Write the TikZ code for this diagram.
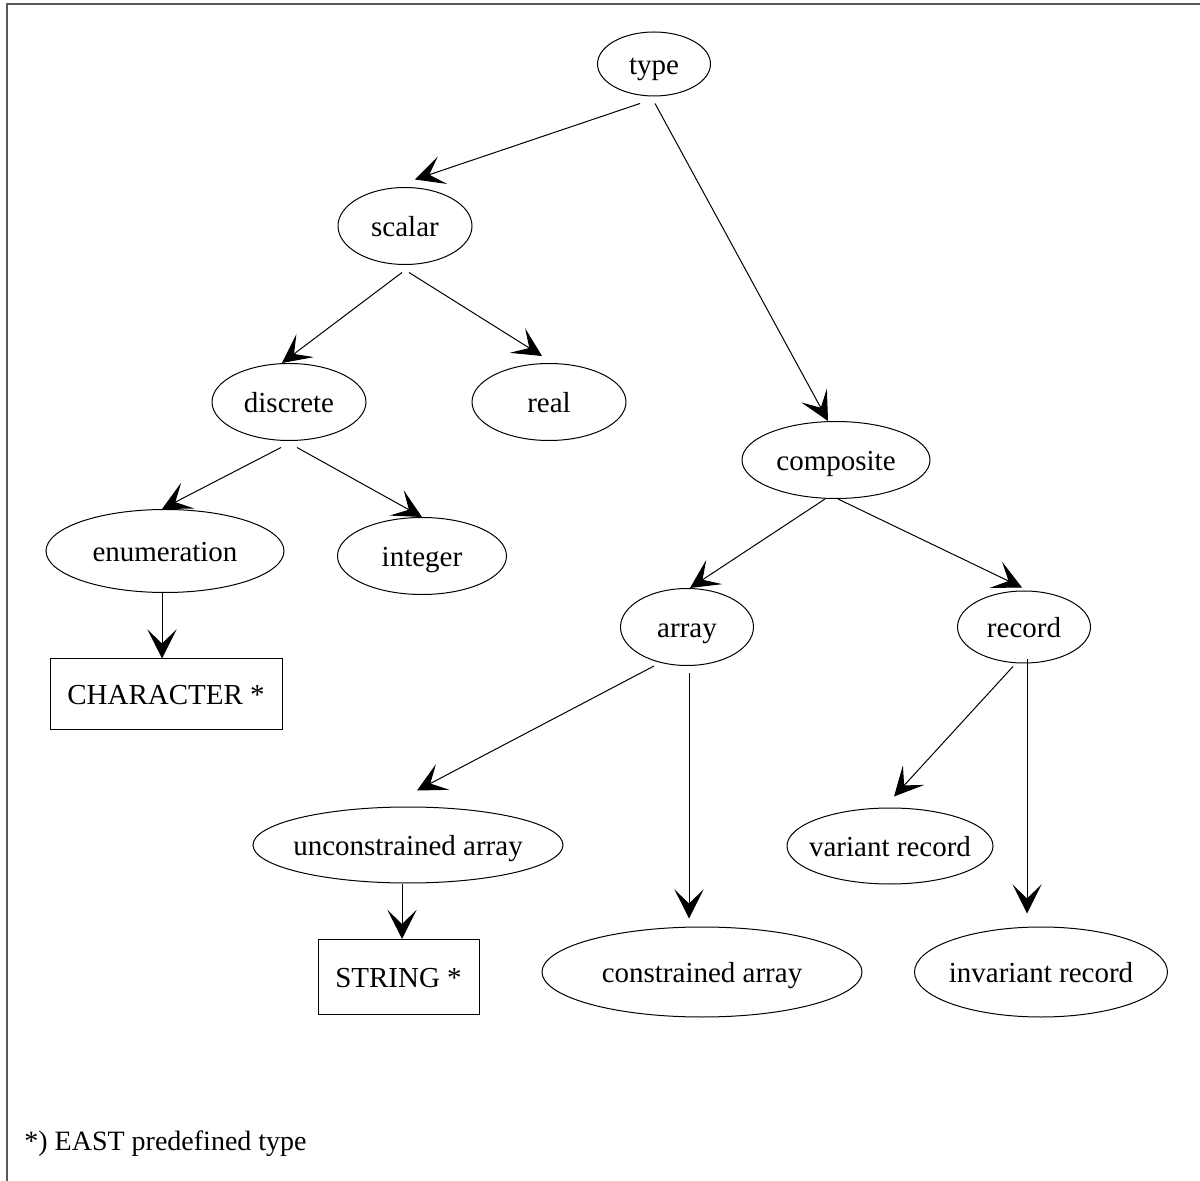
\documentclass[tikz,border=0pt]{standalone}
\usepackage{fontspec}
\setmainfont{Liberation Serif}
\usetikzlibrary{arrows.meta,shapes.geometric,positioning}

\begin{document}
\begin{tikzpicture}[
  x=0.5pt,y=-0.5pt,
  font=\fontsize{14.5}{17}\selectfont,
  kind/.style={ellipse,draw,line width=0.5pt,inner xsep=-12pt,inner ysep=0pt,
    text height=12pt,text depth=1.5pt},
  predef/.style={rectangle,draw,line width=0.5pt,inner sep=0pt,
    text height=12pt,text depth=1.5pt},
  isa/.style={line width=0.5pt,-{Stealth[length=14.5pt,width=14.5pt,inset=7pt]}},
  frame/.style={draw=black!65,line width=1pt}
]
\useasboundingbox (0,0) rectangle (1200,1181);
\draw[frame] (7,1181) -- (7,4) -- (1200,4);

\node[kind,minimum width=56.5pt,minimum height=32pt] (type) at (654,64) {type};
\node[kind,minimum width=67pt,minimum height=38.5pt] (scalar) at (405,226) {scalar};
\node[kind,minimum width=77pt,minimum height=38.5pt] (discrete) at (289,402) {discrete};
\node[kind,minimum width=77pt,minimum height=38.5pt] (real) at (549,402) {real};
\node[kind,minimum width=94pt,minimum height=38.5pt] (composite) at (836,460) {composite};
\node[kind,minimum width=119pt,minimum height=41.5pt] (enumeration) at (165,551) {enumeration};
\node[kind,minimum width=84.5pt,minimum height=38.5pt] (integer) at (422,556) {integer};
\node[kind,minimum width=66.5pt,minimum height=38.5pt] (array) at (687,627) {array};
\node[kind,minimum width=66.5pt,minimum height=36pt] (record) at (1024,627) {record};
\node[predef,minimum width=116pt,minimum height=35.5pt] (character) at (166,694.5) {CHARACTER *};
\node[kind,minimum width=155pt,minimum height=38pt] (unconstrained) at (408,845) {unconstrained array};
\node[kind,minimum width=103pt,minimum height=38pt] (variant) at (890,846) {variant record};
\node[predef,minimum width=80.5pt,minimum height=37.5pt] (string) at (398.5,977) {STRING *};
\node[kind,minimum width=160pt,minimum height=45pt] (constrained) at (702,972) {constrained array};
\node[kind,minimum width=126.5pt,minimum height=45pt] (invariant) at (1041,972) {invariant record};

\node[anchor=base west,inner sep=0pt,font=\fontsize{14}{17}\selectfont] (note) at (24,1150) {*) EAST predefined type};

% hierarchy
\draw[isa] ([shift={(-14,7)}]type.south) -- ([shift={(10,-7.5)}]scalar.north);
\draw[isa] ([shift={(1,7)}]type.south) -- ([shift={(-8,0)}]composite.north);
\draw[isa] ([shift={(-3,7.5)}]scalar.south) -- ([shift={(-7,0)}]discrete.north);
\draw[isa] ([shift={(4,7.5)}]scalar.south) -- ([shift={(-7,-7)}]real.north);
\draw[isa] ([shift={(-8,6.5)}]discrete.south) -- ([shift={(-3,0)}]enumeration.north);
\draw[isa] ([shift={(8,6.5)}]discrete.south) -- (integer.north);
\draw[isa] ([shift={(-3,0)}]enumeration.south) -- ([shift={(-4,0)}]character.north);
\draw[isa] ([shift={(-11,0)}]composite.south) -- ([shift={(3,0)}]array.north);
\draw[isa] ([shift={(2,0)}]composite.south) -- ([shift={(-2,-3)}]record.north);
\draw[isa] ([shift={(-33,0)}]array.south) -- ([shift={(9,-16)}]unconstrained.north);
\draw[isa] ([shift={(2,7.5)}]array.south) -- ([shift={(-13,-8)}]constrained.north);
\draw[isa] ([shift={(-11,3)}]record.south) -- ([shift={(4,-11)}]variant.north);
\draw[isa] ([shift={(3,-4)}]record.south) -- ([shift={(-14,-13)}]invariant.north);
\draw[isa] ([shift={(-6,0)}]unconstrained.south) -- ([shift={(3.5,0)}]string.north);
\end{tikzpicture}
\end{document}
